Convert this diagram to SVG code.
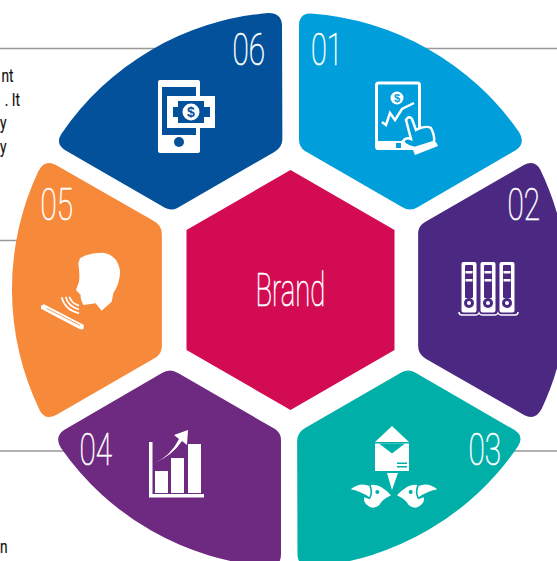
<svg xmlns="http://www.w3.org/2000/svg" width="557" height="561" viewBox="0 0 557 561">
<style>
.num{font-family:Roboto,"Liberation Sans",sans-serif;font-weight:100;font-size:45px;fill:#fff;stroke:#fff;stroke-width:.7}
.side{font-family:Roboto,"Liberation Sans",sans-serif;font-size:19px;fill:#111;text-anchor:end;stroke:#111;stroke-width:.2}
.rule{stroke:#999;stroke-width:1.5;fill:none}
.w{fill:#fff}
</style>
<defs>
<path id="sector" d="M299,26 Q299,13 311,13.500 A277.500,277.500 0 0 1 519,132 Q526,143 516,150 L418,207 Q410,212 402,207 L305,151 Q299,147 299,140 Z"/>
</defs>
<rect width="557" height="561" fill="#fff"/>
<g id="connectors">
<path class="rule" d="M0,48.500H160M420,48.500H557M0,240.500H30M0,451H70M510,451H557"/>
</g>
<g id="side-text">
<text class="side" transform="translate(13.500,82) scale(.72,1)">nt</text>
<text class="side" transform="translate(20,106) scale(.72,1)">. It</text>
<text class="side" transform="translate(6.500,129) scale(.72,1)">y</text>
<text class="side" transform="translate(6.500,153) scale(.72,1)">y</text>
<text class="side" transform="translate(7.500,553) scale(.72,1)">n</text>
</g>
<g id="node-brand">
<polygon points="290.500,170 394.500,230 394.500,350 290.500,410 186.500,350 186.500,230" fill="#D20B52"/>
<text class="num" transform="translate(255.500,306) scale(.585,1)" style="font-size:47px">Brand</text>
</g>
<g id="node-01">
<use href="#sector" fill="#009FDB"/>
<text class="num" transform="translate(311,65) scale(.64,1)">01</text>
<rect x="376.500" y="83" width="43" height="65.500" rx="2" fill="none" stroke="#fff" stroke-width="3"/>
<rect x="376" y="141" width="44" height="9" rx="2" class="w"/>
<rect x="396" y="143" width="5" height="5" fill="#009FDB"/>
<circle cx="397" cy="98" r="6.500" class="w"/>
<text x="397" y="102" text-anchor="middle" style="font-family:'Liberation Sans',sans-serif;font-weight:700;font-size:11px;fill:#009FDB">$</text>
<polyline points="382,122 386,125 390,113 395,120 402,109 414,103" fill="none" stroke="#fff" stroke-width="2.500"/>
<path d="M406,120 Q409,115 412,119 L416,130 Q426,125 431,128 Q435,136 434,142 L415,148 Q405,146 403,141 Q406,137 411,139 Z" fill="#009FDB" stroke="#fff" stroke-width="2.500"/>
<polygon points="413,150 436,142 438,146 415,155" class="w"/>
</g>
<g id="node-02">
<use href="#sector" fill="#4B2982" transform="rotate(60 290.500 290)"/>
<text class="num" transform="translate(507.500,220) scale(.66,1)">02</text>
<g id="binders">
<g id="binder">
<rect x="461.500" y="262" width="15" height="50.500" rx="2" class="w"/>
<rect x="465" y="265" width="8" height="33" rx="1" fill="#4B2982"/>
<rect x="465.500" y="271" width="7" height="2.500" class="w"/>
<rect x="465.500" y="279" width="7" height="2.500" class="w"/>
<circle cx="469" cy="303" r="5" fill="#4B2982"/>
<circle cx="469" cy="303" r="2" class="w"/>
</g>
<use href="#binder" x="19"/>
<use href="#binder" x="38"/>
</g>
<path d="M459,312 Q459,315 462,315 H476 Q478,315 479,313 Q480,315 482,315 H495 Q497,315 498,313 Q499,315 501,315 H515 Q518,315 518,312" fill="none" stroke="#fff" stroke-width="1.500"/>
</g>
<g id="node-03">
<use href="#sector" fill="#00B0A8" transform="translate(-1.500,0) rotate(120 290.500 290)"/>
<text class="num" transform="translate(468.500,465) scale(.66,1)">03</text>
<polygon points="375,442 392,426 409,442" class="w"/>
<path d="M375,443.500H409V471H375Z" class="w"/>
<polygon points="379,443.500 405,443.500 392,453.500" fill="#00B0A8"/>
<path d="M397,462.500H407V464H397ZM397,466H407V467.500H397Z" fill="#00B0A8"/>
<polygon points="387,473 398,473 392,490" class="w"/>
<g transform="translate(340,420) scale(.3333)">
<g id="bird">
<path d="M32,208 Q60,185 88,198 Q95,215 88,232 Q65,215 32,208Z" class="w"/>
<path d="M92,195 Q120,188 153,226 Q125,240 118,255 Q100,270 85,258 Q70,250 72,232 L90,238 Q102,215 92,195Z" class="w"/>
<circle cx="112" cy="216" r="6" fill="#00B0A8"/>
</g>
<use href="#bird" transform="matrix(-1 0 0 1 324 0)"/>
</g>
</g>
<g id="node-04">
<use href="#sector" fill="#6E2980" transform="translate(-1,0) rotate(180 290.500 290)"/>
<text class="num" transform="translate(79.500,465) scale(.66,1)">04</text>
<path d="M149,442H152.500V494H204V497.500H149Z" class="w"/>
<rect x="155" y="471" width="13" height="22" class="w"/>
<rect x="171" y="458" width="13" height="35" class="w"/>
<rect x="188" y="444" width="13" height="49" class="w"/>
<path d="M154,463 Q170,457 179,439 L174,435 L188,430 L187,445 L182,441 Q172,456 154,463Z" class="w"/>
</g>
<g id="node-05">
<use href="#sector" fill="#F7893B" transform="translate(-1,0) rotate(240 290.500 290)"/>
<text class="num" transform="translate(40.500,220) scale(.66,1)">05</text>
<g transform="translate(30,240) scale(.3333)">
<path d="M150,55 Q175,38 220,38 Q262,45 270,90 Q272,125 250,160 L245,185 L215,212 L197,190 L160,195 Q150,175 152,165 L138,150 L147,125 Q150,105 145,70 Z" class="w"/>
<path d="M95,172 Q105,210 147,220M107,170 Q115,200 147,208M118,170 Q125,190 147,197" fill="none" stroke="#fff" stroke-width="5"/>
<path d="M33,197 L42,193 L162,255 L160,268 L150,268 L33,206Z" class="w"/>
<path d="M50,205 L150,256" stroke="#F7893B" stroke-width="2.500"/>
</g>
</g>
<g id="node-06">
<use href="#sector" fill="#03519A" transform="rotate(300 290.500 290)"/>
<text class="num" transform="translate(232.500,65) scale(.66,1)">06</text>
<rect x="158" y="80" width="42" height="73" rx="2" class="w"/>
<rect x="162" y="87" width="34" height="48" fill="#03519A"/>
<circle cx="179" cy="142" r="5" fill="#03519A"/>
<rect x="167" y="96" width="48" height="32" class="w"/>
<path d="M178,101H204V107H210V117H204V123H178V117H173V107H178Z" fill="#03519A"/>
<circle cx="191" cy="112" r="8.500" class="w"/>
<text x="191" y="117" text-anchor="middle" style="font-family:'Liberation Sans',sans-serif;font-weight:700;font-size:14px;fill:#03519A">$</text>
</g>
</svg>
